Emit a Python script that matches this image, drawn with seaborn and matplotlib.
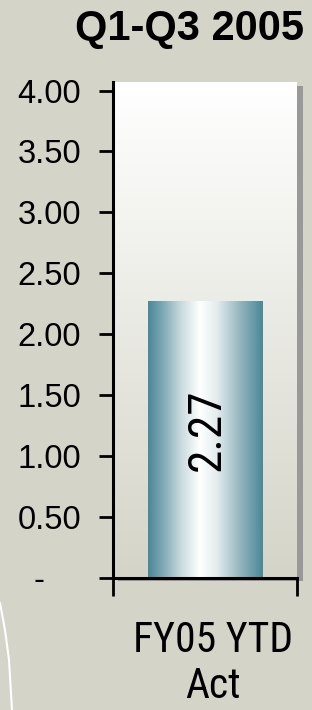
import numpy as np
import pandas as pd
import seaborn as sns
import matplotlib
matplotlib.use("Agg")
import matplotlib.pyplot as plt
from matplotlib.colors import LinearSegmentedColormap, to_rgb
from matplotlib.patches import Rectangle
from matplotlib.lines import Line2D
from matplotlib.transforms import ScaledTranslation

# ---- data ----
categories = ["FY05 YTD\nAct"]
values = [2.27]
ytick_values = [0, 0.5, 1.0, 1.5, 2.0, 2.5, 3.0, 3.5, 4.0]
ytick_labels = ["-    ", "0.50", "1.00", "1.50", "2.00", "2.50", "3.00", "3.50", "4.00"]
title = "Q1-Q3 2005"

BG = "#D4D4C8"
W, H, DPI = 312, 710, 100
NARROW = ["Roboto Condensed", "DejaVu Sans"]

sns.set_theme(style="white")
plt.rcParams["font.family"] = ["Liberation Sans", "DejaVu Sans"]
plt.rcParams["text.color"] = "black"
plt.rcParams["xtick.color"] = "black"
plt.rcParams["ytick.color"] = "black"
plt.rcParams["xtick.labelcolor"] = "black"
plt.rcParams["ytick.labelcolor"] = "black"

fig = plt.figure(figsize=(W / DPI, H / DPI), dpi=DPI, facecolor=BG)

def px(x0, y0, x1, y1):
    return [x0 / W, 1 - y1 / H, (x1 - x0) / W, (y1 - y0) / H]

ax = fig.add_axes(px(113, 82, 297, 578))
ax.set_facecolor("none")

# shadow of the plot area
fig.patches.append(Rectangle((118 / W, 1 - 581 / H), (303 - 118) / W, (581 - 86) / H,
                             transform=fig.transFigure, facecolor="#999999",
                             edgecolor="none", zorder=-2))

df = pd.DataFrame({"cat": categories, "val": values})
sns.barplot(data=df, x="cat", y="val", width=0.625, ax=ax, color="#5B93A1", zorder=3)

# plot area gradient (white top -> background bottom)
bg_rgb = np.array(to_rgb(BG))
t = np.linspace(0, 1, 256)[:, None]
grad = (1 - t) * np.array([1, 1, 1]) + t * bg_rgb
ax.imshow(grad[:, None, :].repeat(2, axis=1), extent=[0, 1, 0, 1], transform=ax.transAxes,
          aspect="auto", zorder=0, interpolation="bilinear")

# bar horizontal gradient
cmap = LinearSegmentedColormap.from_list("cyl", [
    (0.0, "#4A8898"), (0.12, "#7BA6B2"), (0.28, "#C6D8DD"), (0.45, "#FFFFFF"),
    (0.6, "#E4ECEE"), (0.8, "#95B6BF"), (1.0, "#4A8898")])
for p in ax.patches:
    x0, y0 = p.get_x(), p.get_y()
    w, h = p.get_width(), p.get_height()
    im = ax.imshow(np.linspace(0, 1, 256)[None, :], cmap=cmap, aspect="auto",
                   extent=[x0, x0 + w, y0, y0 + h], zorder=3.5, interpolation="bilinear")
    im.set_clip_path(p)
    p.set_facecolor("none")
    p.set_edgecolor("none")

lbls = ax.bar_label(ax.containers[0], labels=[f"{v:.2f}" for v in values], label_type="center",
                    rotation=90, fontsize=34, family=NARROW, color="black", zorder=5)
for t_ in lbls:
    t_.xyann = (1.5, 7)

ax.set_xlim(-0.5, 0.5)
ax.set_ylim(0, 4.07)

ax.set_yticks(ytick_values)
ax.set_yticklabels(ytick_labels, fontsize=23.5, color="black")
ax.tick_params(axis="y", length=10, width=2, color="black", pad=13, left=True)

ax.set_xticks([0])
ax.set_xticklabels(categories, fontsize=30, family=NARROW, linespacing=1.17, color="black")
ax.set_xticks([-0.5, 0.5], minor=True)
ax.tick_params(axis="x", which="major", length=0, pad=30)
ax.tick_params(axis="x", which="minor", length=13, width=2, color="black", bottom=True)
for lbl in ax.get_xticklabels():
    lbl.set_transform(lbl.get_transform() + ScaledTranslation(8 / DPI, 0, fig.dpi_scale_trans))

ax.set_xlabel("")
ax.set_ylabel("")
for s in ["top", "right"]:
    ax.spines[s].set_visible(False)
for s in ["left", "bottom"]:
    ax.spines[s].set_color("black")
    ax.spines[s].set_linewidth(2.2)
    ax.spines[s].set_zorder(6)

fig.text(190 / W, 1 - 40 / H, title, ha="center", va="baseline", fontsize=30,
         fontweight="bold", color="black")

# decorative white curve at the lower left
fig.add_artist(Line2D(np.array([0, 5, 9, 12]) / W, 1 - np.array([603, 630, 660, 710]) / H,
                      transform=fig.transFigure, color="white", lw=1.5))

fig.savefig("out.png", dpi=DPI, facecolor=BG)
